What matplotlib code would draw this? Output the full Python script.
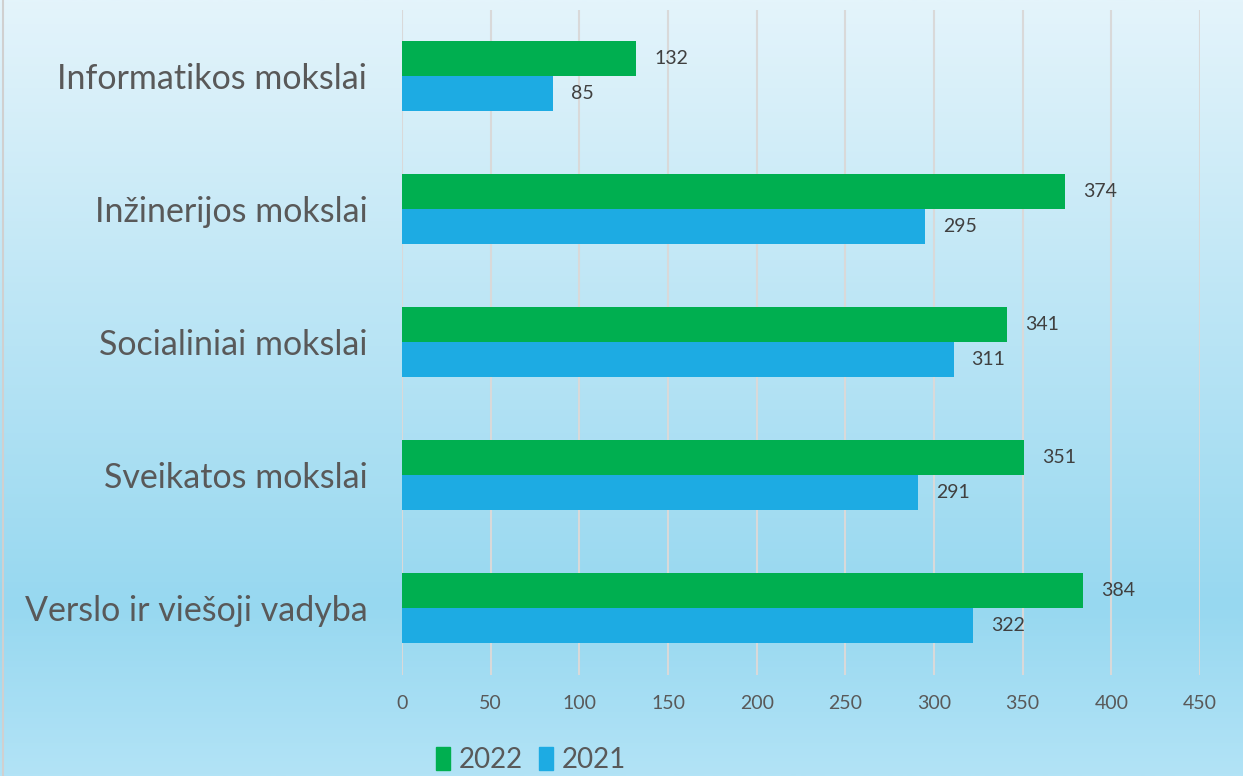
import matplotlib
matplotlib.use("Agg")
import matplotlib.pyplot as plt
import numpy as np
from matplotlib.colors import LinearSegmentedColormap
from matplotlib.patches import Patch

plt.rcParams['font.family'] = ['Lato', 'DejaVu Sans']

categories = ["Informatikos mokslai", "Inžinerijos mokslai", "Socialiniai mokslai",
              "Sveikatos mokslai", "Verslo ir viešoji vadyba"]
values_2022 = [132, 374, 341, 351, 384]
values_2021 = [85, 295, 311, 291, 322]
series_names = ["2022", "2021"]
xticks = [0, 50, 100, 150, 200, 250, 300, 350, 400, 450]

c2022 = "#00AF50"
c2021 = "#1DABE3"

W, H = 1243, 776
fig = plt.figure(figsize=(W / 100, H / 100), dpi=100)

# background gradient
bg = fig.add_axes([0, 0, 1, 1], zorder=-10)
cmap = LinearSegmentedColormap.from_list(
    "bg", [(0.0, "#e4f4fb"), (0.78, "#97d8f0"), (1.0, "#b2e3f6")])
grad = np.linspace(0, 1, 512).reshape(-1, 1)
bg.imshow(grad, aspect="auto", cmap=cmap, extent=[0, 1, 1, 0])
bg.set_xlim(0, 1)
bg.set_ylim(1, 0)
bg.axis("off")
bg.axvline(3 / W, color="#d0d0d0", lw=1.5)

left = 402 / W
right = 1200 / W
top = 1 - 10 / H
bottom = 1 - 674.5 / H
ax = fig.add_axes([left, bottom, right - left, top - bottom])
ax.set_facecolor("none")

y = np.arange(len(categories))
h = 0.263
b1 = ax.barh(y - h / 2, values_2022, height=h, color=c2022, zorder=3)
b2 = ax.barh(y + h / 2, values_2021, height=h, color=c2021, zorder=3)

for bars, vals in ((b1, values_2022), (b2, values_2021)):
    for bar, v in zip(bars, vals):
        ax.annotate(str(v), (v, bar.get_y() + bar.get_height() / 2),
                    xytext=(13, 0), textcoords="offset points",
                    ha="left", va="center", fontsize=14, color="#404040")

ax.set_xlim(0, 450)
ax.set_ylim(len(categories) - 0.5, -0.5)
ax.set_xticks(xticks)
ax.set_xticklabels([str(t) for t in xticks], fontsize=14, color="#595959")
ax.set_yticks(y)
ax.set_yticklabels(categories, fontsize=24.5, color="#595959")
ax.tick_params(axis="x", length=0, pad=15)
ax.tick_params(axis="y", length=0, pad=25)
ax.grid(axis="x", color="#d9d9d9", lw=1.5, zorder=0)
for s in ax.spines.values():
    s.set_visible(False)

handles = [Patch(color=c2022), Patch(color=c2021)]
fig.legend(handles, series_names, loc="center", bbox_to_anchor=(531 / W, 1 - 760 / H),
           ncol=2, frameon=False, fontsize=20, labelcolor="#595959",
           handlelength=0.5, handleheight=0.9, handletextpad=0.3, columnspacing=0.6,
           borderpad=0.1)

fig.savefig("out.png", dpi=100)
